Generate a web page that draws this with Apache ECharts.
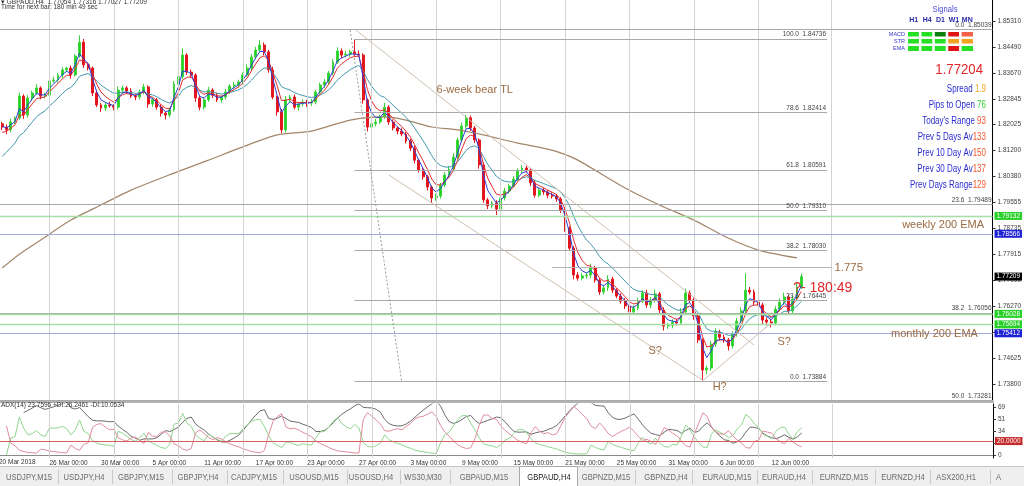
<!DOCTYPE html>
<html><head><meta charset="utf-8">
<script src="https://cdn.jsdelivr.net/npm/echarts@6.0.0/dist/echarts.min.js"></script>
<style>html,body{margin:0;padding:0;background:#fff;overflow:hidden}#chart{width:1024px;height:486px}</style>
</head><body><div id="chart"></div>
<script>
// ---------------- data ----------------
const closes = [
1.8195,1.8186,1.8211,1.8224,1.8293,1.8233,1.8287,1.8303,1.8319,1.8293,
1.8296,1.8341,1.8344,1.8360,1.8376,1.8382,1.8360,1.8420,1.8464,1.8392,
1.8382,1.8303,1.8265,1.8255,1.8265,1.8262,1.8258,1.8312,1.8319,1.8309,
1.8293,1.8290,1.8306,1.8322,1.8268,1.8281,1.8258,1.8239,1.8233,1.8249,
1.8331,1.8354,1.8423,1.8369,1.8360,1.8287,1.8258,1.8281,1.8312,1.8296,
1.8281,1.8290,1.8306,1.8325,1.8328,1.8338,1.8360,1.8382,1.8417,1.8439,
1.8455,1.8433,1.8376,1.8290,1.8243,1.8186,1.8281,1.8290,1.8258,1.8268,
1.8274,1.8271,1.8274,1.8306,1.8328,1.8338,1.8366,1.8401,1.8436,1.8423,
1.8426,1.8433,1.8426,1.8423,1.8281,1.8195,1.8205,1.8211,1.8227,1.8258,
1.8211,1.8192,1.8182,1.8173,1.8151,1.8128,1.8090,1.8059,1.8037,1.8005,
1.7970,1.7976,1.8011,1.8043,1.8062,1.8100,1.8154,1.8198,1.8224,1.8192,
1.8154,1.8075,1.7964,1.7945,1.7954,1.7935,1.7970,1.7992,1.8008,1.8030,
1.8056,1.8065,1.8059,1.8018,1.7979,1.7995,1.7989,1.7979,1.7976,1.7967,
1.7932,1.7875,1.7811,1.7726,1.7716,1.7723,1.7726,1.7748,1.7710,1.7672,
1.7685,1.7713,1.7678,1.7659,1.7643,1.7628,1.7609,1.7621,1.7643,1.7669,
1.7631,1.7647,1.7666,1.7615,1.7564,1.7567,1.7577,1.7574,1.7609,1.7669,
1.7647,1.7596,1.7520,1.7425,1.7431,1.7507,1.7545,1.7529,1.7520,1.7501,
1.7539,1.7580,1.7612,1.7678,1.7672,1.7640,1.7631,1.7583,1.7577,1.7574,
1.7618,1.7640,1.7656,1.7612,1.7650,1.7688,1.77209];
const upWickPips = [
6,8,10,5,12,6,9,7,12,5, 8,6,10,7,9,5,8,6,22,10, 7,5,9,6,8,10,5,12,7,6,
9,6,8,10,5,7,6,9,5,8, 10,7,22,6,8,5,9,7,10,6, 8,5,9,6,10,7,8,12,9,10,
16,8,6,10,5,9,12,7,8,6, 9,7,10,6,8,9,7,10,12,8, 10,7,40,12,6,5,8,10,7,14,
6,8,5,9,7,6,8,5,7,6, 5,8,7,9,10,12,8,11,9,7, 6,5,8,6,7,9,8,10,7,9,
8,10,7,6,9,7,8,6,9,7, 6,8,5,7,9,10,8,14,7,6, 9,12,7,6,8,10,7,9,11,8,
10,9,14,6,8,7,9,10,12,14, 8,7,6,5,8,10,12,7,8,6, 9,10,12,54,10,8,9,7,8,10,
9,12,14,8,10,12,9];
const downWickPips = [
10,14,8,7,6,12,8,9,6,10, 7,8,6,9,10,7,12,5,6,9, 8,10,7,12,9,6,10,7,9,8,
6,10,8,7,12,9,8,11,14,7, 6,8,7,9,10,12,10,8,6,9, 7,9,8,6,10,7,8,6,9,7,
8,10,9,7,12,10,8,9,7,10, 8,12,9,7,6,8,9,7,6,10, 7,9,8,6,12,14,9,8,7,6,
9,8,10,7,8,9,10,8,9,11, 16,9,8,7,10,8,6,7,8,9, 10,12,9,10,8,19,7,8,9,6,
7,8,9,10,8,7,9,10,8,9, 10,12,9,14,8,7,9,10,8,9, 8,10,9,7,8,10,12,9,7,6,
9,10,8,12,14,9,10,8,7,9, 8,12,10,32,14,9,8,10,9,14, 8,9,7,10,8,9,10,12,11,14,
8,7,9,10,8,7,6];
const firstOpen = 1.8205;

// 200 EMA (brown) read at selected bars
const ema200Bars = [0,4,9,16,23,30,40,48,56,64,72,81,89,94,100,106,112,120,127,130,134,145,153,161,169,176,185];
const ema200Vals = [1.7748,1.7792,1.7837,1.7900,1.7948,1.7995,1.8049,1.8090,1.8132,1.8170,1.8182,1.8217,1.8227,1.8217,1.8195,1.8186,1.8170,1.8144,1.8125,1.8113,1.8090,1.8002,1.7948,1.7900,1.7843,1.7805,1.7780];

const dateTickLabels = ['20 Mar 2018','26 Mar 00:00','30 Mar 00:00','5 Apr 00:00','11 Apr 00:00','17 Apr 00:00','23 Apr 00:00','27 Apr 00:00','3 May 00:00','9 May 00:00','15 May 00:00','21 May 00:00','25 May 00:00','31 May 00:00','6 Jun 00:00','12 Jun 00:00'];
const priceTicks = [1.85310,1.84490,1.83670,1.82845,1.82025,1.81200,1.80380,1.79555,1.78735,1.77915,1.77090,1.76270,1.75450,1.74625,1.73800];
const adxTicks = [0,17,34,51,69];
const adxLevel = 20;

const fibDrawn = [['100.0',1.84736],['78.6',1.82414],['61.8',1.80591],['50.0',1.79310],['38.2',1.78030],['23.6',1.76445],['0.0',1.73884]];
const fibFull = [['0.0',1.85039],['23.6',1.79489],['38.2',1.76056],['50.0',1.73281]];
const greenLevels = [1.79132,1.76028,1.75694];
const blueLevels = [1.78566,1.75412];
const lastPrice = 1.77209;
const targetLevel = 1.775;

// trend lines: [startBar, startPrice, endBar, endPrice]
const bearTL = [82,1.8506,175,1.7504];
const channelLow = [90,1.8043,163,1.7393];
const steepDotted = [81,1.8502,93,1.7387];
const neckRise = [163,1.7390,179,1.7574];

// annotations: [text, bar, price]
const annotations = [['6-week bear TL',110,1.8312],['S?',152,1.7485],['H?',167,1.7371],['S?',182,1.7513],['weekly 200 EMA',219,1.7884],['monthly 200 EMA',217,1.7539]];
const countdown = ['?- 180:49',191,1.7685];

const signalCols = ['H1','H4','D1','W1','MN'];
const signalRows = ['MACD','STR','EMA'];
const signalStates = [['up','up','upStrong','down','downWeak'],['up','up','up','neutral','neutral'],['up','up','up','down','up']];
const infoRows = [['Spread ','1.9'],['Pips to Open ','76'],["Today's Range ",'93'],['Prev 5 Days Av','133'],['Prev 10 Day Av','150'],['Prev 30 Day Av','137'],['Prev Days Range','129']];
const infoColors = ['#f0a21e','#2ecb2e','#f2562a','#f2562a','#f2562a','#f2562a','#f2562a'];
const bidPrice = '1.77204';
const headerLine1 = '\u25BE GBPAUD,H4  1.77054 1.77316 1.77027 1.77209';
const headerLine2 = 'Time for next bar: 180 min 49 sec';
const adxHeader = 'ADX(14) 23.7596 +DI:26.2461 -DI:10.0534';
const tabNames = ['USDJPY,M15','USDJPY,H4','GBPJPY,M15','GBPJPY,H4','CADJPY,M15','USOUSD,M15','USOUSD,H4','WS30,M30','GBPAUD,M15','GBPAUD,H4','GBPNZD,M15','GBPNZD,H4','EURAUD,M15','EURAUD,H4','EURNZD,M15','EURNZD,H4','ASX200,H1','AS'];
const activeTab = 'GBPAUD,H4';

// ---------------- layout ----------------
const N_CAT = 231, BARS_PER_LABEL = 12;
const gridLineBars = [11,26,41,56,71,86,101,116,131,146,161,176,193];
const fibStartBar = 82, fibEndBar = 192, targetStartBar = 128, targetEndBar = 193;
const tabCenters = [29,84,141,198,254,314,371,423,484,549,606,666,727,784,844,903,956,996];
const tabSeparators = [58,112,172,227,283,347,400,450,635,692,757,812,875,930,990];
const FONT = 'Liberation Sans';

// ---------------- derived ----------------
const cats = Array.from({length:N_CAT},(_,i)=>String(i));
const ohlc = closes.map((c,i)=>{const o=i?closes[i-1]:firstOpen;return [o,c,Math.min(o,c)-downWickPips[i]/1e4,Math.max(o,c)+upWickPips[i]/1e4];});
function ema(arr,n,seed){const k=2/(n+1);let e=seed;return arr.map(v=>(e=e+k*(v-e),+e.toFixed(5)));}
const emaBlue = ema(closes,3,1.8200), emaRed = ema(closes,5,1.8170), emaTeal = ema(closes,12,1.8085);
function adx(d,n){
  const P=[],M=[],A=[];let tr=0,pp=0,mm=0,a=null;const dxs=[];
  for(let i=0;i<d.length;i++){
    if(i===0){P.push(null);M.push(null);A.push(null);continue;}
    const h=d[i][3],l=d[i][2],ph=d[i-1][3],pl=d[i-1][2],pc=d[i-1][1];
    const up=h-ph,dn=pl-l;const pdm=(up>dn&&up>0)?up:0,mdm=(dn>up&&dn>0)?dn:0;
    const t=Math.max(h-l,Math.abs(h-pc),Math.abs(l-pc));
    if(i<=n){tr+=t;pp+=pdm;mm+=mdm;}else{tr=tr-tr/n+t;pp=pp-pp/n+pdm;mm=mm-mm/n+mdm;}
    const p=100*pp/tr,m=100*mm/tr,dx=(p+m)?100*Math.abs(p-m)/(p+m):0;
    P.push(+p.toFixed(2));M.push(+m.toFixed(2));
    if(a===null){dxs.push(dx);if(dxs.length>=n)a=dxs.reduce((x,y)=>x+y,0)/dxs.length;}else a=(a*(n-1)+dx)/n;
    A.push(a===null?null:+a.toFixed(2));
  }
  return {P,M,A};
}
const adxData = adx(ohlc,5);
const labelMap = new Map();
for(let k=1;k<dateTickLabels.length;k++) labelMap.set(BARS_PER_LABEL*k-1, dateTickLabels[k]);

// ---------------- markers ----------------
const axisTag = (v,bg,fg)=>({show:true,position:'end',formatter:v.toFixed(5),color:fg,backgroundColor:bg,padding:[1,2,0,2],fontSize:6.5,fontFamily:FONT,distance:2});
const fibLabel = (lvl,v)=>({show:true,position:'insideEndTop',formatter:lvl+'  '+v.toFixed(5),color:'#444',fontSize:6.5,fontFamily:FONT,distance:1});
const levelLines = [];
fibFull.forEach(([l,v])=>levelLines.push({yAxis:v,lineStyle:{color:'#a9a9a9',width:1,type:'solid'},label:fibLabel(l,v)}));
fibDrawn.forEach(([l,v])=>levelLines.push([{coord:[fibStartBar,v],lineStyle:{color:'#a9a9a9',width:1,type:'solid'},label:fibLabel(l,v)},{coord:[fibEndBar,v]}]));
greenLevels.forEach(v=>levelLines.push({yAxis:v,lineStyle:{color:'#a6dea6',width:1.3,type:'solid'},label:axisTag(v,'#27d127','#fff')}));
blueLevels.forEach(v=>levelLines.push({yAxis:v,lineStyle:{color:'#a3a9dc',width:1,type:'solid'},label:axisTag(v,'#1f23d6','#fff')}));
levelLines.push({yAxis:lastPrice,lineStyle:{color:'rgba(255,255,255,0)',width:0.1},label:axisTag(lastPrice,'#000','#fff')});
levelLines.push([{coord:[targetStartBar,targetLevel],lineStyle:{color:'#b4b4b4',width:1,type:'solid'},label:{show:true,position:'end',formatter:'1.775',color:'#9b6b43',fontSize:11.5,fontFamily:FONT,distance:3}},{coord:[targetEndBar,targetLevel]}]);
const tl = (a,style)=>[{coord:[a[0],a[1]],lineStyle:style,label:{show:false}},{coord:[a[2],a[3]]}];
levelLines.push(tl(bearTL,{color:'#cfbfae',width:1,type:'solid'}));
levelLines.push(tl(channelLow,{color:'#cfbfae',width:1,type:'solid'}));
levelLines.push(tl(neckRise,{color:'#cfbfae',width:1,type:'solid'}));
levelLines.push(tl(steepDotted,{color:'#9a9a9a',width:1,type:[2,2]}));

const annoPoints = annotations.map(([t,b,p])=>({name:t,coord:[b,p],label:{show:true,position:'inside',formatter:'{b}',color:'#9b6b43',fontSize:11,fontFamily:FONT}}));
annoPoints.push({name:countdown[0],coord:[countdown[1],countdown[2]],label:{show:true,position:'inside',formatter:'{b}',color:'#e0282a',fontSize:14,fontFamily:FONT}});

const vGrid = gridLineBars.map(b=>({xAxis:b}));
const vGridStyle = {color:'#d2d2d2',width:1,type:'solid'};

// ---------------- graphics (panel texts / tab bar) ----------------
function txt(x,y,text,st,sx){const s=Object.assign({text,fontFamily:FONT,align:'left',verticalAlign:'middle'},st);s.textAlign=s.align;s.textVerticalAlign=s.verticalAlign;return {type:'text',x,y,scaleX:sx||1,silent:true,z:100,style:s};}
const graphics = [];
graphics.push(txt(1,2,headerLine1,{fontSize:6.5,fill:'#333'}));
graphics.push(txt(1,7.5,headerLine2,{fontSize:6.5,fill:'#333'}));
graphics.push(txt(945,10,'Signals',{fontSize:9,fill:'#4b4bd8',align:'center'},0.85));
graphics.push(txt(983,70,bidPrice,{fontSize:15,fill:'#e3262a',align:'right'},0.88));
infoRows.forEach(([l,v],i)=>{
  graphics.push({type:'text',x:986,y:89+16*i,scaleX:0.8,silent:true,z:100,style:{text:'{a|'+l+'}{b|'+v+'}',align:'right',textAlign:'right',verticalAlign:'middle',textVerticalAlign:'middle',
    rich:{a:{fill:'#2b2bd2',color:'#2b2bd2',fontSize:10,fontFamily:FONT},b:{fill:infoColors[i],color:infoColors[i],fontSize:10,fontFamily:FONT}}}});
});
graphics.push(txt(1,405,adxHeader,{fontSize:6.5,fill:'#333'}));
graphics.push(txt(-1,462.5,dateTickLabels[0],{fontSize:6.5,fill:'#333'}));
// tab bar
graphics.push({type:'rect',silent:true,z:90,shape:{x:0,y:466,width:1024,height:20},style:{fill:'#efefef'}});
graphics.push({type:'line',silent:true,z:91,shape:{x1:0,y1:466.5,x2:1024,y2:466.5},style:{stroke:'#c6c6c6',lineWidth:1}});
const ai = tabNames.indexOf(activeTab);
graphics.push({type:'rect',silent:true,z:92,shape:{x:519.5,y:466.5,width:58,height:20},style:{fill:'#fff',stroke:'#a9a9a9',lineWidth:1}});
tabSeparators.forEach(x=>graphics.push({type:'line',silent:true,z:92,shape:{x1:x+0.5,y1:470,x2:x+0.5,y2:484},style:{stroke:'#c9c9c9',lineWidth:1}}));
tabNames.forEach((t,i)=>graphics.push(txt(tabCenters[i],477,t,{fontSize:9.5,fill:i===ai?'#222':'#6c6c6c',align:i===tabNames.length-1?'left':'center'},0.8)));
graphics.push({type:'rect',silent:true,z:101,shape:{x:1001,y:468,width:23,height:18},style:{fill:'#efefef'}});
graphics.push(txt(1005,477,'\u25C2',{fontSize:8,fill:'#222',fontFamily:'DejaVu Sans'}));
graphics.push(txt(1014,477,'\u25B8',{fontSize:8,fill:'#222',fontFamily:'DejaVu Sans'}));
graphics.forEach(g=>{if(g.z===undefined)g.z=100;});

// signals heatmap
const stateColor = {up:'#25e025',upStrong:'#0b7f0b',down:'#e01616',downWeak:'#f2624a',neutral:'#f2a21e'};
const sigData = [];
signalStates.forEach((row,r)=>row.forEach((s,c)=>sigData.push({value:[c,r,1],itemStyle:{color:stateColor[s]}})));

// ---------------- option ----------------
const PMIN = 1.7325, PMAX = 1.85976;
const option = {
  animation:false,
  textStyle:{fontFamily:FONT},
  grid:[
    {left:0,top:0,width:993,height:401.5},
    {left:0,top:404,width:993,height:54},
    {left:907,top:31,width:67,height:21}
  ],
  xAxis:[
    {type:'category',gridIndex:0,data:cats,boundaryGap:true,axisLabel:{show:false},axisTick:{show:false},
     axisLine:{show:true,lineStyle:{color:'#b3b3b3',width:3}},splitLine:{show:false}},
    {type:'category',gridIndex:1,data:cats,boundaryGap:true,axisTick:{show:false},
     axisLine:{show:true,lineStyle:{color:'#8a8a8a',width:1}},splitLine:{show:false},
     axisLabel:{show:true,interval:(i)=>labelMap.has(i),formatter:(v,i)=>labelMap.get(+v)||'',align:'left',fontSize:6.5,color:'#333',margin:1.5,fontFamily:FONT}},
    {type:'category',gridIndex:2,data:signalCols,position:'top',axisLine:{show:false},axisTick:{show:false},
     axisLabel:{interval:0,fontSize:7,fontWeight:'bold',color:'#2828a8',margin:7,fontFamily:FONT}}
  ],
  yAxis:[
    {type:'value',gridIndex:0,position:'right',min:PMIN,max:PMAX,splitLine:{show:false},
     axisLine:{show:true,lineStyle:{color:'#000',width:1}},
     axisTick:{show:true,length:3,customValues:priceTicks,lineStyle:{color:'#333'}},
     axisLabel:{show:true,customValues:priceTicks,formatter:(v)=>(+v).toFixed(5),fontSize:6.5,color:'#404040',margin:5,fontFamily:FONT}},
    {type:'value',gridIndex:1,position:'right',min:-4.31,max:73.31,splitLine:{show:false},
     axisLine:{show:true,lineStyle:{color:'#000',width:1}},
     axisTick:{show:true,length:3,customValues:adxTicks,lineStyle:{color:'#333'}},
     axisLabel:{show:true,customValues:adxTicks,formatter:(v)=>String(Math.round(v)),fontSize:6.5,color:'#404040',margin:5,fontFamily:FONT}},
    {type:'category',gridIndex:2,data:signalRows,inverse:true,axisLine:{show:false},axisTick:{show:false},
     axisLabel:{interval:0,fontSize:5.5,color:'#3535c8',margin:2,fontFamily:FONT}}
  ],
  series:[
    {name:'vgrid',type:'line',xAxisIndex:0,yAxisIndex:0,data:[],z:1,silent:true,
     markLine:{symbol:'none',silent:true,animation:false,precision:5,label:{show:false},lineStyle:vGridStyle,data:vGrid}},
    {name:'levels',type:'line',xAxisIndex:0,yAxisIndex:0,data:[],z:2,silent:true,
     markLine:{symbol:'none',silent:true,animation:false,precision:5,data:levelLines},
     markPoint:{symbol:'circle',symbolSize:1,silent:true,animation:false,itemStyle:{color:'rgba(0,0,0,0)'},data:annoPoints}},
    {name:'GBPAUD',type:'candlestick',xAxisIndex:0,yAxisIndex:0,data:ohlc,z:3,barWidth:2.4,
     itemStyle:{color:'#1fd71f',color0:'#e3161e',borderColor:'#3fd23f',borderColor0:'#e3161e',borderWidth:1}},
    {name:'EMA200',type:'line',xAxisIndex:0,yAxisIndex:0,data:ema200Bars.map((b,i)=>[b,ema200Vals[i]]),z:4,
     showSymbol:false,smooth:0.25,lineStyle:{color:'#a3866a',width:1.2}},
    {name:'EMAteal',type:'line',xAxisIndex:0,yAxisIndex:0,data:emaTeal,z:4,showSymbol:false,lineStyle:{color:'#3f98ab',width:1}},
    {name:'EMAred',type:'line',xAxisIndex:0,yAxisIndex:0,data:emaRed,z:4,showSymbol:false,lineStyle:{color:'#e22a2e',width:1}},
    {name:'EMAblue',type:'line',xAxisIndex:0,yAxisIndex:0,data:emaBlue,z:4,showSymbol:false,lineStyle:{color:'#2a3fd8',width:1}},
    {name:'adxgrid',type:'line',xAxisIndex:1,yAxisIndex:1,data:[],z:1,silent:true,
     markLine:{symbol:'none',silent:true,animation:false,precision:4,data:[...gridLineBars.map(b=>({xAxis:b,lineStyle:vGridStyle,label:{show:false}})),
       {yAxis:adxLevel,lineStyle:{color:'#d46060',width:1,type:'solid'},label:{show:true,position:'end',formatter:adxLevel.toFixed(4),color:'#fff',backgroundColor:'#c42a2a',padding:[1,2,0,2],fontSize:6.5,fontFamily:FONT,distance:2}}]}},
    {name:'ADX',type:'line',xAxisIndex:1,yAxisIndex:1,data:adxData.A,z:3,showSymbol:false,lineStyle:{color:'#6a6a6a',width:1}},
    {name:'+DI',type:'line',xAxisIndex:1,yAxisIndex:1,data:adxData.P,z:3,showSymbol:false,lineStyle:{color:'#8fd58f',width:1}},
    {name:'-DI',type:'line',xAxisIndex:1,yAxisIndex:1,data:adxData.M,z:3,showSymbol:false,lineStyle:{color:'#e08b9b',width:1}},
    {name:'signals',type:'heatmap',xAxisIndex:2,yAxisIndex:2,data:sigData,itemStyle:{borderColor:'#fff',borderWidth:2.5},silent:true}
  ],
  graphic:{elements:graphics}
};
const chart = echarts.init(document.getElementById('chart'),null,{renderer:'canvas'});
chart.setOption(option);
</script></body></html>
